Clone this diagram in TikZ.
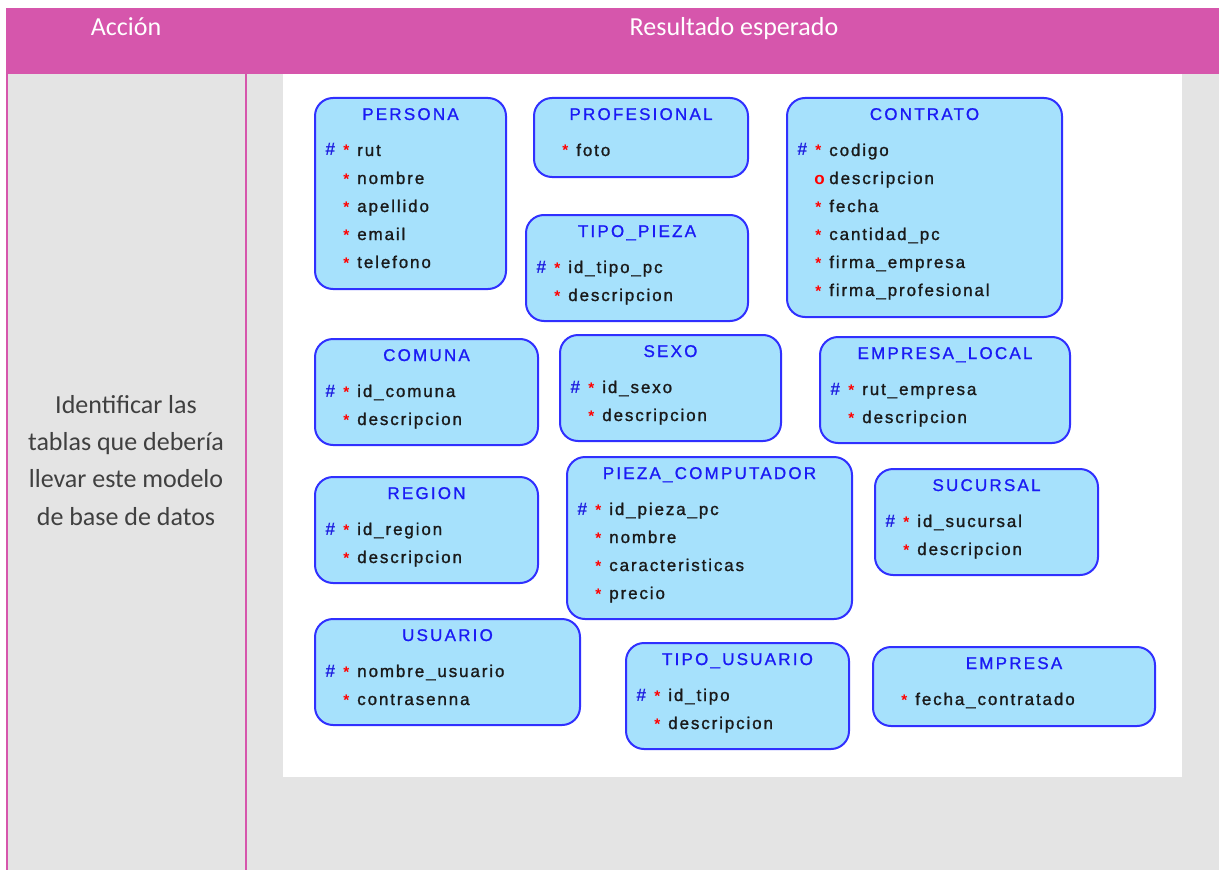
\documentclass[tikz,border=0pt]{standalone}
\usepackage{fontspec}
\setmainfont{Carlito}
\newfontfamily\ertitlefont[LetterSpace=13,FakeBold=1.0]{Liberation Sans}
\newfontfamily\erfieldfont[LetterSpace=11,FakeBold=1.2]{Liberation Sans}
\newfontfamily\ermarkfont{Liberation Sans}

\definecolor{hdrpink}{HTML}{D656AC}
\definecolor{cellgray}{HTML}{E4E4E4}
\definecolor{boxfill}{HTML}{A6E1FC}
\definecolor{boxline}{HTML}{3030FF}
\definecolor{titleblue}{HTML}{1A1AF5}
\definecolor{keyblue}{HTML}{1E1EE0}
\definecolor{fieldtext}{HTML}{1A1A1A}
\definecolor{bodytext}{HTML}{404040}

\tikzset{
  entity/.style={draw=boxline, line width=1.5pt, fill=boxfill, rounded corners=13.5pt, inner sep=0pt},
  etitle/.style={anchor=base, inner sep=0pt, text=titleblue, font=\ertitlefont\fontsize{12.75}{14}\selectfont},
  efield/.style={anchor=base west, inner sep=0pt, text=fieldtext, font=\erfieldfont\fontsize{12.75}{14}\selectfont},
  ekey/.style={anchor=base west, inner sep=0pt, text=keyblue, font=\ermarkfont\bfseries\fontsize{13.5}{14}\selectfont},
  estar/.style={anchor=base west, inner sep=0pt, text=red, font=\ermarkfont\bfseries\fontsize{11.5}{14}\selectfont},
  eopt/.style={anchor=base west, inner sep=0pt, text=red, font=\ermarkfont\bfseries\fontsize{12.75}{14}\selectfont},
  hdrtext/.style={anchor=base, inner sep=0pt, text=white, font=\fontsize{19.5}{24}\selectfont},
  celltext/.style={anchor=base, inner sep=0pt, text=bodytext, font=\fontsize{19.5}{24}\selectfont},
}

% attribute markers: primary key (# *), mandatory (*), optional (o)
\newcommand\ermarkK[3]{%
  \node[ekey] (#1-h) at ({#2+10},#3) {\#};
  \node[estar] (#1-s) at ({#2+28},#3) {*};}
\newcommand\ermarkS[3]{%
  \node[estar] (#1-s) at ({#2+28},#3) {*};}
\newcommand\ermarkO[3]{%
  \node[eopt] (#1-o) at ({#2+27},#3) {o};}

% entity box: name, x1, y1, x2, y2, title, rows (marker/text)
\newcommand\erentity[7]{%
  \pgfmathsetmacro\ew{(#4-#2)*0.75}%
  \pgfmathsetmacro\eh{(#5-#3)*0.75}%
  \node[entity, minimum width=\ew pt, minimum height=\eh pt] (#1) at ({(#2+#4)/2},{(#3+#5)/2}) {};
  \node[etitle] (#1-title) at ({(#2+#4)/2},{#3+22}) {#6};
  \foreach \m/\t [count=\i] in {#7} {
    \pgfmathsetmacro\yy{#3+30+28*\i}
    \csname ermark\m\endcsname{#1-\i}{#2}{\yy}
    \node[efield] (#1-f\i) at ({#2+42},\yy) {\t};
  }
}

\begin{document}
\begin{tikzpicture}[x=0.75pt, y=-0.75pt]
  \useasboundingbox (0,0) rectangle (1219,870);
  % table frame
  \fill[hdrpink] (6,8) rectangle (1219,74.5);
  \fill[cellgray] (6,74.5) rectangle (1219,870);
  \fill[white] (283,74) rectangle (1182,777);
  \draw[hdrpink, line width=1.5pt] (7,74) -- (7,870);
  \draw[hdrpink, line width=1.5pt] (246,74) -- (246,870);

  \node[hdrtext] (hAccion) at (126,36) {Acción};
  \node[hdrtext] (hResultado) at (734,36) {Resultado esperado};

  \node[celltext] (act1) at (126,413) {Identificar las};
  \node[celltext] (act2) at (126,450) {tablas que debería};
  \node[celltext] (act3) at (126,487) {llevar este modelo};
  \node[celltext] (act4) at (126,525) {de base de datos};

  % entities
  \erentity{persona}{315}{98}{506}{289}{PERSONA}{K/rut, S/nombre, S/apellido, S/email, S/telefono}
  \erentity{profesional}{534}{98}{748}{177}{PROFESIONAL}{S/foto}
  \erentity{contrato}{787}{98}{1062}{317}{CONTRATO}{K/codigo, O/descripcion, S/fecha, S/cantidad\_pc, S/firma\_empresa, S/firma\_profesional}
  \erentity{tipopieza}{526}{215}{748}{321}{TIPO\_PIEZA}{K/id\_tipo\_pc, S/descripcion}
  \erentity{comuna}{315}{339}{538}{445}{COMUNA}{K/id\_comuna, S/descripcion}
  \erentity{sexo}{560}{335}{781}{441}{SEXO}{K/id\_sexo, S/descripcion}
  \erentity{empresalocal}{820}{337}{1070}{443}{EMPRESA\_LOCAL}{K/rut\_empresa, S/descripcion}
  \erentity{region}{315}{477}{538}{583}{REGION}{K/id\_region, S/descripcion}
  \erentity{pieza}{567}{457}{852}{619}{PIEZA\_COMPUTADOR}{K/id\_pieza\_pc, S/nombre, S/caracteristicas, S/precio}
  \erentity{sucursal}{875}{469}{1098}{575}{SUCURSAL}{K/id\_sucursal, S/descripcion}
  \erentity{usuario}{315}{619}{580}{725}{USUARIO}{K/nombre\_usuario, S/contrasenna}
  \erentity{tipousuario}{626}{643}{849}{749}{TIPO\_USUARIO}{K/id\_tipo, S/descripcion}
  \erentity{empresa}{873}{647}{1155}{726}{EMPRESA}{S/fecha\_contratado}
\end{tikzpicture}
\end{document}
